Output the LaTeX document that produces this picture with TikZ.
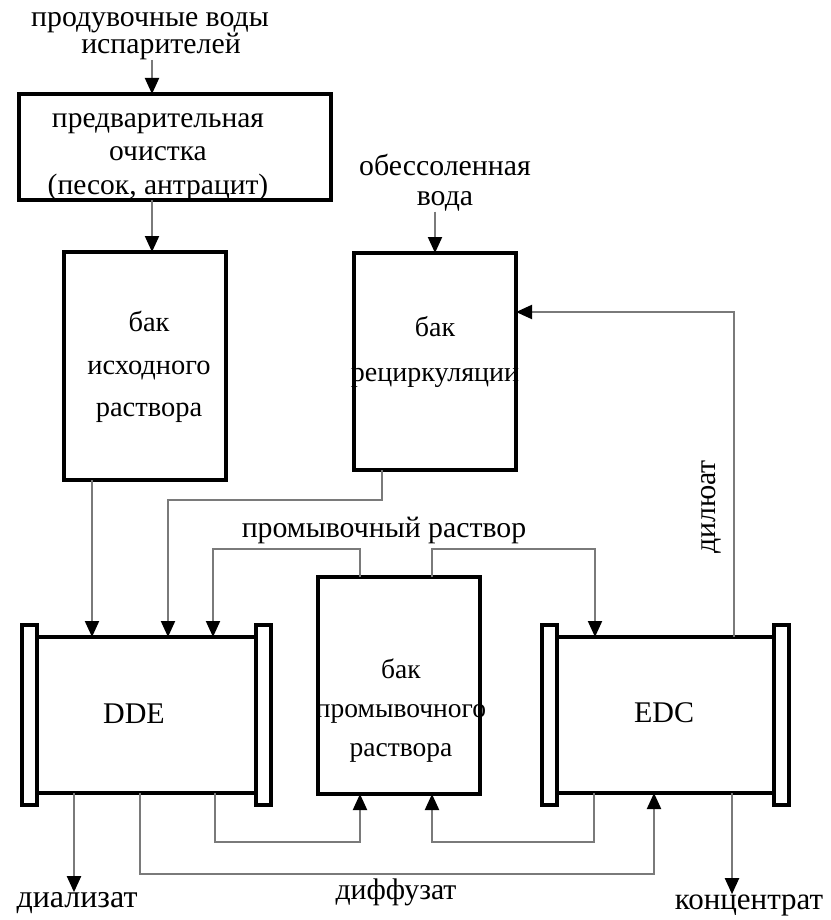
\documentclass[tikz,border=0pt]{standalone}
\usepackage{fontspec}
\setmainfont{Liberation Serif}
\usetikzlibrary{arrows.meta,positioning}

\tikzset{
  tank/.style={draw, line width=3.6pt, inner sep=0pt, outer sep=0pt, anchor=north west},
  flange/.style={draw, fill=white, line width=3.6pt, inner sep=0pt, outer sep=0pt,
    minimum width=15pt, minimum height=180pt},
  pipe/.style={draw=black!52, line width=2pt},
  flow/.style={pipe, -{Triangle[length=16pt,width=14pt,color=black]}},
  txt/.style 2 args={align=center, inner sep=0pt, font=\fontsize{#1}{#2}\selectfont}
}

\begin{document}
\begin{tikzpicture}[x=1pt,y=-1pt]
\useasboundingbox (0,0) rectangle (830,920);

% Tanks and the pretreatment filter
\node[tank, minimum width=312pt, minimum height=106pt] (pre) at (19,94) {};
\node[tank, minimum width=162pt, minimum height=228pt] (feed) at (64,252) {};
\node[tank, minimum width=162pt, minimum height=217pt] (recirc) at (354,253) {};
\node[tank, minimum width=162pt, minimum height=217pt] (wash) at (318,577) {};

% Stacks with their end plates
\node[tank, minimum width=219pt, minimum height=156pt] (dde) at (37,637) {};
\node[tank, minimum width=217pt, minimum height=156pt] (edc) at (557,637) {};
\node[flange, left=0pt of dde] (ddeL) {};
\node[flange, right=0pt of dde] (ddeR) {};
\node[flange, left=0pt of edc] (edcL) {};
\node[flange, right=0pt of edc] (edcR) {};

% Texts
\node[txt={29.8}{27}] (blow) at (150,36) {продувочные воды\\\hspace*{22pt}испарителей};
\node[txt={29.5}{33.5}] (pretxt) at (158,157) {предварительная\\очистка\\(песок, антрацит)};
\node[txt={28.5}{42.5}] (feedtxt) at (149,367) {бак\\исходного\\раствора};
\node[txt={29.8}{30}] (desal) at (445,183) {обессоленная\\вода};
\node[txt={28}{45}] (recirctxt) at (435,352) {бак\\рециркуляции};
\node[txt={27.5}{39}] (washtxt) at (401,711) {бак\\промывочного\\раствора};
\node[txt={30}{30}] (ddetxt) at (134,714) {DDE};
\node[txt={30}{30}] (edctxt) at (664,713) {EDC};
\node[txt={29.8}{30}] (washsol) at (384,530) {промывочный раствор};
\node[txt={29.8}{30}, rotate=90] (dil) at (711,507) {дилюат};
\node[txt={32}{32}] (dial) at (77,903) {диализат};
\node[txt={29.8}{30}] (diff) at (396,892) {диффузат};
\node[txt={31}{32}] (conc) at (749,905) {концентрат};

% Feed line
\draw[flow] ([xshift=-23pt]pre.north |- blow.south) -- ([xshift=-23pt]pre.north);
\draw[flow] ([xshift=-23pt]pre.south) -- ([xshift=7pt]feed.north);
\draw[flow] ([xshift=-53pt]feed.south) -- ([xshift=-53pt]feed.south |- dde.north);
\draw[flow] (desal.south -| recirc.north) -- (recirc.north);
\draw[flow] ([xshift=-53pt]recirc.south) -- ++(0,30) -| ([xshift=21.5pt]dde.north);

% Washing solution loop
\draw[flow] ([xshift=-39pt]wash.north) -- ++(0,-28) -| ([xshift=66.5pt]dde.north);
\draw[flow] ([xshift=33pt]wash.north) -- ++(0,-28) -| ([xshift=-70.5pt]edc.north);
\draw[flow] ([xshift=68.5pt]dde.south) -- ++(0,49) -| ([xshift=-39pt]wash.south);
\draw[flow] ([xshift=-71.5pt]edc.south) -- ++(0,49) -| ([xshift=33pt]wash.south);

% Products
\draw[flow] ([xshift=-6.5pt]dde.south) -- ++(0,81) -| ([xshift=-11.5pt]edc.south);
\draw[flow] ([xshift=68.5pt]edc.north) |- ([yshift=49.5pt]recirc.east);
\draw[flow] ([xshift=-72.5pt]dde.south) -- ([xshift=-72.5pt]dde.south |- dial.north);
\draw[flow] ([xshift=66.5pt]edc.south) -- ([xshift=66.5pt]edc.south |- conc.north);

\end{tikzpicture}
\end{document}
